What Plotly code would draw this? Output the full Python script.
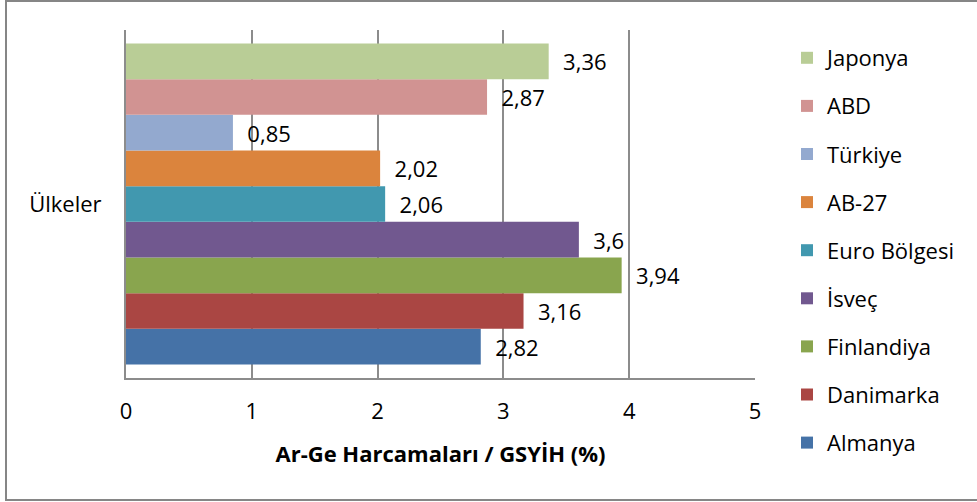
import plotly.graph_objects as go

category = ["Ülkeler"]
countries = ["Almanya", "Danimarka", "Finlandiya", "İsveç", "Euro Bölgesi",
             "AB-27", "Türkiye", "ABD", "Japonya"]
values = [2.82, 3.16, 3.94, 3.6, 2.06, 2.02, 0.85, 2.87, 3.36]
colors = ["#4572A7", "#AA4643", "#89A54E", "#71588F", "#4198AF",
          "#DB843D", "#93A9CF", "#D19392", "#B9CD96"]
x_ticks = [0, 1, 2, 3, 4, 5]
x_title = "Ar-Ge Harcamaları / GSYİH (%)"

FONT = "Open Sans, Noto Sans, DejaVu Sans, sans-serif"
W, H = 977, 502
L, R, T, B = 126, 222, 30, 124

fig = go.Figure()
n = len(countries)
for i, (name, v, c) in enumerate(zip(countries, values, colors)):
    fig.add_trace(go.Bar(
        y=category, x=[v], name=name, orientation="h",
        marker=dict(color=c, line=dict(width=0)),
        text=["  " + f"{v:g}".replace(".", ",")],
        textposition="outside", cliponaxis=False,
        textfont=dict(family=FONT, size=22, color="#000000"),
        legendgroup=name, legendrank=n - i,
    ))

pw = W - L - R
ph = H - T - B
def px_x(p):
    return (p - L) / pw
def px_y(p):
    return (H - B - p) / ph

fig.add_shape(type="rect", xref="paper", yref="paper",
              x0=px_x(6), x1=px_x(990), y0=px_y(500), y1=px_y(1),
              line=dict(color="#868686", width=2), layer="below")

fig.update_layout(
    width=W, height=H,
    margin=dict(l=L, r=R, t=T, b=B, autoexpand=False),
    paper_bgcolor="white", plot_bgcolor="white",
    barmode="group", bargap=0.078, bargroupgap=0,
    font=dict(family=FONT, size=22, color="#000000"),
    showlegend=True,
    legend=dict(
        xref="container", yref="container",
        x=787 / W, xanchor="left",
        y=1 - 37 / H, yanchor="top",
        traceorder="grouped", tracegroupgap=16.5,
        maxheight=490,
        font=dict(family=FONT, size=22, color="#000000"),
        bgcolor="rgba(0,0,0,0)",
    ),
    xaxis=dict(
        range=[0, 5], tickvals=x_ticks, ticktext=[str(t) for t in x_ticks],
        showgrid=True, gridcolor="#8c8c8c", gridwidth=1.5,
        showline=True, linecolor="#8c8c8c", linewidth=2,
        zeroline=False, ticks="", ticklabelstandoff=13,
        tickfont=dict(family=FONT, size=22),
        title=dict(text="<b>" + x_title + "</b>", standoff=22,
                   font=dict(family=FONT, size=22)),
        fixedrange=True, automargin=False,
    ),
    yaxis=dict(
        showline=True, linecolor="#8c8c8c", linewidth=2,
        showgrid=False, zeroline=False, ticks="",
        ticklabelstandoff=18,
        tickfont=dict(family=FONT, size=22),
        fixedrange=True, automargin=False,
    ),
)

fig.write_html("out.html",
               config={"displayModeBar": False},
               post_script="document.body.style.margin='0';document.body.style.overflow='hidden';")
